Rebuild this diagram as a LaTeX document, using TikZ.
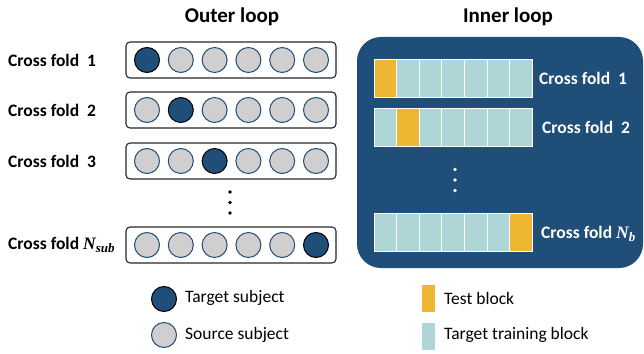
\documentclass[tikz,border=0pt]{standalone}
\usepackage{fontspec}
\setmainfont{Carlito}
\newfontfamily\mathlike{Liberation Serif}
\newcommand{\bvar}[2]{{\mathlike\bfseries\itshape #1\raisebox{-0.3ex}{\fontsize{13}{14}\selectfont #2}}}
\definecolor{dblue}{HTML}{1F4E79}
\definecolor{cgray}{HTML}{D0CECE}
\definecolor{tealb}{HTML}{AED6D6}
\definecolor{gold}{HTML}{EDB731}
\begin{document}
\begin{tikzpicture}[x=1pt,y=-1pt,
  title/.style={font=\fontsize{21}{24}\selectfont\bfseries, inner sep=0pt},
  lab/.style={font=\fontsize{17.5}{20}\selectfont\bfseries, inner sep=0pt, anchor=west},
  leg/.style={font=\fontsize{17.5}{20}\selectfont, inner sep=0pt, anchor=west},
  rowbox/.style={draw=black!85, line width=1.1pt, rounded corners=4pt, minimum width=210pt, minimum height=36pt, inner sep=0pt},
  src/.style={circle, draw=dblue, line width=1pt, fill=cgray, minimum size=25pt, inner sep=0pt},
  tgt/.style={circle, draw=black, line width=1pt, fill=dblue, minimum size=25pt, inner sep=0pt},
  blk/.style={draw=white, line width=1pt, minimum width=22.6pt, minimum height=38pt, inner sep=0pt},
  trn/.style={blk, fill=tealb},
  tst/.style={blk, fill=gold},
  dotc/.style={circle, fill=#1, minimum size=3.6pt, inner sep=0pt}
]
\useasboundingbox (0,0) rectangle (644,353);
% titles
\node[title] (tout) at (232,17) {Outer loop};
\node[title] (tin) at (508,17) {Inner loop};
% outer loop rows
\foreach \r/\y/\t in {1/60/1, 2/110/2, 3/161/3, 4/245/6}{
  \node[rowbox] (row\r) at (231,\y) {};
  \foreach \i in {1,...,6}{
    \ifnum\i=\t
      \node[tgt] (c\r\i) at ({147+33.8*(\i-1)},\y) {};
    \else
      \node[src] (c\r\i) at ({147+33.8*(\i-1)},\y) {};
    \fi
  }
}
\node[lab] (l1) at (8,60) {Cross fold~ 1};
\node[lab] (l2) at (8,110) {Cross fold~ 2};
\node[lab] (l3) at (8,161) {Cross fold~ 3};
\node[lab] (l4) at (8,245) {Cross fold \bvar{N}{sub}};
\node[dotc=black] (d1) at (230,192) {};
\node[dotc=black] (d2) at (230,202.5) {};
\node[dotc=black] (d3) at (230,213) {};
% inner loop
\node[fill=dblue, rounded corners=24pt, minimum width=286pt, minimum height=231pt, inner sep=0pt] (panel) at (500,152.5) {};
\foreach \r/\y/\t in {1/78/1, 2/127/2, 3/232.5/7}{
  \foreach \i in {1,...,7}{
    \ifnum\i=\t
      \node[tst] (b\r\i) at ({385.3+22.6*(\i-1)},\y) {};
    \else
      \node[trn] (b\r\i) at ({385.3+22.6*(\i-1)},\y) {};
    \fi
  }
}
\node[lab, text=white] (m1) at (539,78) {Cross fold~ 1};
\node[lab, text=white] (m2) at (542,127) {Cross fold~ 2};
\node[lab, text=white] (m3) at (541,234) {Cross fold \bvar{N}{b}};
\node[dotc=white] (e1) at (455,169.5) {};
\node[dotc=white] (e2) at (455,180) {};
\node[dotc=white] (e3) at (455,190.5) {};
% legends
\node[tgt] (lt) at (164,299) {};
\node[leg] (ltt) at (185,298) {Target subject};
\node[src] (ls) at (164,335) {};
\node[leg] (lst) at (185,335) {Source subject};
\node[fill=gold, minimum width=13pt, minimum height=27pt, inner sep=0pt] (lb1) at (428.5,298.5) {};
\node[leg] (lb1t) at (444,298) {Test block};
\node[fill=tealb, minimum width=13pt, minimum height=27pt, inner sep=0pt] (lb2) at (428.5,336.5) {};
\node[leg] (lb2t) at (444,335) {Target training block};
\end{tikzpicture}
\end{document}
